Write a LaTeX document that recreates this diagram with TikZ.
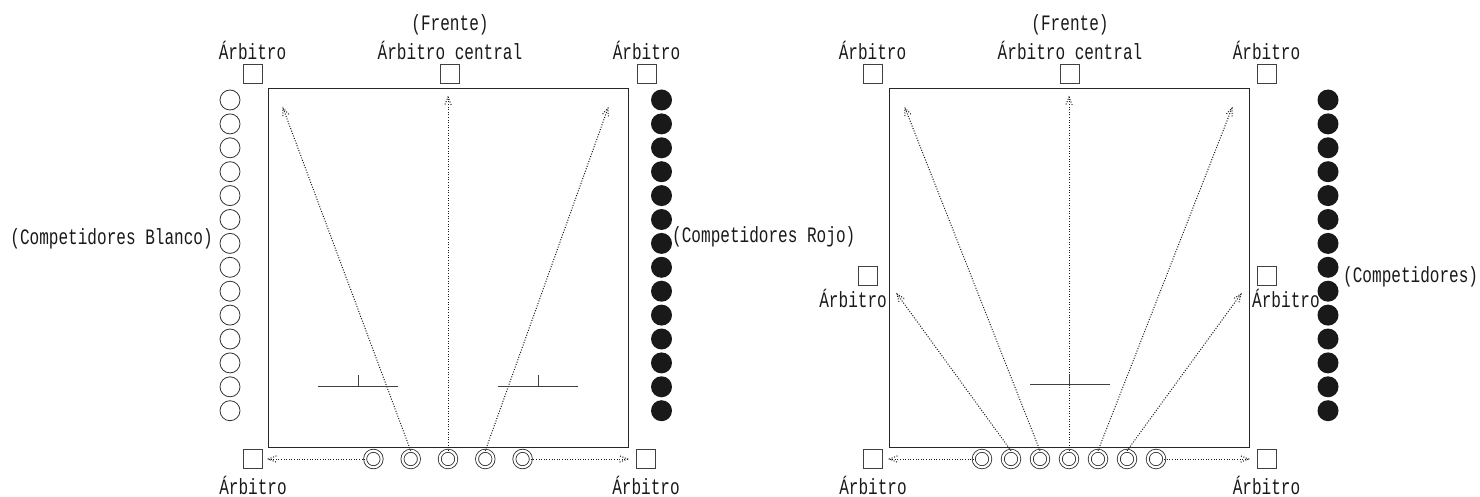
\documentclass[tikz,border=0pt]{standalone}
\usepackage{fontspec}
\newfontfamily\lblfont[FakeStretch=0.73]{Liberation Mono}
\usetikzlibrary{calc}
\newcommand\dotarrow[2]{%
  \draw[dotl] (#1) -- (#2);
  \draw[dotl] ($(#2)!8.5pt!22:(#1)$) -- (#2) -- ($(#2)!8.5pt!-22:(#1)$);}
\begin{document}
\begin{tikzpicture}[x=1pt,y=-1pt,
  judge/.style={draw=black!75, line width=0.8pt, minimum size=19pt, inner sep=0pt},
  wcirc/.style={circle, draw=black!80, line width=0.8pt, minimum size=20pt, inner sep=0pt},
  bcirc/.style={circle, fill=black!90, minimum size=21pt, inner sep=0pt},
  dc/.style={circle, draw=black!85, line width=0.8pt, double, double distance=2.2pt, minimum size=16.5pt, inner sep=0pt, outer sep=0pt},
  court/.style={draw=black!85, line width=0.9pt, inner sep=0pt},
  lbl/.style={font=\lblfont\fontsize{22}{24}\selectfont, text=black!90, inner sep=0pt},
  dotl/.style={line width=1pt, dash pattern=on 1pt off 1.6pt, black!90},
  tmark/.style={line width=0.9pt, black!75}
]
\useasboundingbox (0,0) rectangle (1480,497);

% ---------- left panel ----------
\node[court, minimum width=360pt, minimum height=359pt] (cL) at (448,267.5) {};
\node[judge] (jLtl) at (252.5,74) {};
\node[judge] (jLtc) at (450,74) {};
\node[judge] (jLtr) at (646.5,74) {};
\node[judge] (jLbl) at (253,458.5) {};
\node[judge] (jLbr) at (646,458.5) {};
\node[lbl, anchor=base] (tLtl) at (252.5,60) {Árbitro};
\node[lbl, anchor=base] (tLf) at (450,31) {(Frente)};
\node[lbl, anchor=base] (tLtc) at (450,60) {Árbitro central};
\node[lbl, anchor=base] (tLtr) at (646.5,60) {Árbitro};
\node[lbl, anchor=base] (tLbl) at (253,494) {Árbitro};
\node[lbl, anchor=base] (tLbr) at (646,494) {Árbitro};
\foreach \i in {0,...,13} {
  \node[wcirc] (wL\i) at (230,{100+23.9*\i}) {};
  \node[bcirc] (bL\i) at (661.5,{100+23.9*\i}) {};
}
\node[lbl, anchor=base east] (tBl) at (213,244) {(Competidores Blanco)};
\node[lbl, anchor=base west] (tRo) at (672,243) {(Competidores Rojo)};
\foreach \i in {0,...,4} \node[dc] (dL\i) at ({448+37.3*(\i-2)},459) {};
\coordinate (aL1) at (283,108);
\coordinate (aL2) at (448,97);
\coordinate (aL3) at (608,108);
\coordinate (aLw) at (268.5,459);
\coordinate (aLe) at (627.5,459);
\dotarrow{dL1.north}{aL1}
\dotarrow{dL2.north}{aL2}
\dotarrow{dL3.north}{aL3}
\dotarrow{dL0.west}{aLw}
\dotarrow{dL4.east}{aLe}
\draw[tmark] (318,386) -- (398,386) (358,375) -- (358,386);
\draw[tmark] (498,386) -- (578,386) (538,375) -- (538,386);

% ---------- right panel ----------
\node[court, minimum width=360pt, minimum height=359pt] (cR) at (1069,267.5) {};
\node[judge] (jRtl) at (872.5,74) {};
\node[judge] (jRtc) at (1070,74) {};
\node[judge] (jRtr) at (1266.5,74) {};
\node[judge] (jRml) at (867.5,275.5) {};
\node[judge] (jRmr) at (1266.5,275.5) {};
\node[judge] (jRbl) at (873,458.5) {};
\node[judge] (jRbr) at (1266.5,458.5) {};
\node[lbl, anchor=base] (tRtl) at (872.5,60) {Árbitro};
\node[lbl, anchor=base] (tRf) at (1070,31) {(Frente)};
\node[lbl, anchor=base] (tRtc) at (1070,60) {Árbitro central};
\node[lbl, anchor=base] (tRtr) at (1266.5,60) {Árbitro};
\node[lbl, anchor=base east] (tRml) at (887,307) {Árbitro};
\node[lbl, anchor=base west] (tRmr) at (1252,307) {Árbitro};
\node[lbl, anchor=base] (tRbl) at (873,494) {Árbitro};
\node[lbl, anchor=base] (tRbr) at (1266.5,494) {Árbitro};
\foreach \i in {0,...,13} \node[bcirc] (bR\i) at (1328,{100+23.9*\i}) {};
\node[lbl, anchor=base west] (tCo) at (1343,282) {(Competidores)};
\foreach \i in {0,...,6} \node[dc] (dR\i) at ({1069+29*(\i-3)},459) {};
\coordinate (aR1) at (897,294);
\coordinate (aR2) at (905,108);
\coordinate (aR3) at (1069,97);
\coordinate (aR4) at (1232,108);
\coordinate (aR5) at (1241,294);
\coordinate (aRw) at (889.5,459);
\coordinate (aRe) at (1248.5,459);
\foreach \i in {1,...,5} {\dotarrow{dR\i.north}{aR\i}}
\dotarrow{dR0.west}{aRw}
\dotarrow{dR6.east}{aRe}
\draw[tmark] (1030,384) -- (1110,384) (1069,374) -- (1069,384);
\end{tikzpicture}
\end{document}
